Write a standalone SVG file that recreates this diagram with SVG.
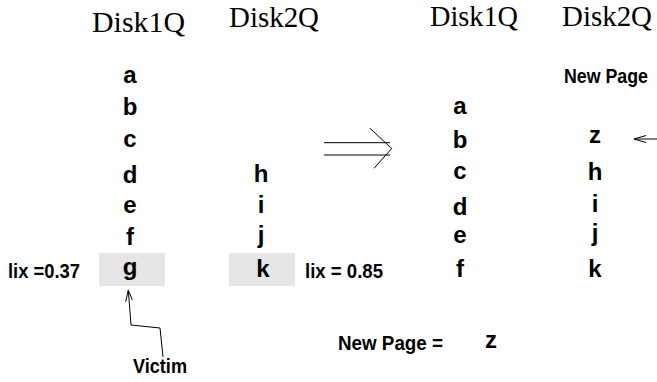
<svg xmlns="http://www.w3.org/2000/svg" width="657" height="382" viewBox="0 0 657 382">
<style>
.hd{font-family:"Liberation Serif","Times New Roman",serif;font-size:29px;fill:#000}
.lt{font-family:"Liberation Sans",Arial,sans-serif;font-weight:bold;font-size:24px;fill:#000;text-anchor:middle}
.lb{font-family:"Liberation Sans",Arial,sans-serif;font-weight:bold;font-size:21px;fill:#000}
.box{fill:#e6e6e6}
.ln{fill:none;stroke:#000;stroke-width:1}
</style>
<rect width="657" height="382" fill="#fff"/>
<g id="headings">
<text class="hd" x="92" y="32" textLength="93" lengthAdjust="spacingAndGlyphs">Disk1Q</text>
<text class="hd" x="229" y="27" textLength="90" lengthAdjust="spacingAndGlyphs">Disk2Q</text>
<text class="hd" x="430" y="26" textLength="88" lengthAdjust="spacingAndGlyphs">Disk1Q</text>
<text class="hd" x="562" y="26" textLength="90" lengthAdjust="spacingAndGlyphs">Disk2Q</text>
</g>
<g id="left-disk1">
<rect class="box" x="99" y="253" width="66" height="33"/>
<text class="lt" x="130" y="83">a</text>
<text class="lt" x="130" y="115">b</text>
<text class="lt" x="130" y="147">c</text>
<text class="lt" x="130" y="183">d</text>
<text class="lt" x="130" y="213">e</text>
<text class="lt" x="130" y="245">f</text>
<text class="lt" x="130" y="275">g</text>
<text class="lb" x="8" y="278" textLength="72" lengthAdjust="spacingAndGlyphs">lix =0.37</text>
</g>
<g id="left-disk2">
<rect class="box" x="229" y="253" width="66" height="33"/>
<text class="lt" x="261" y="182">h</text>
<text class="lt" x="261" y="213">i</text>
<text class="lt" x="261" y="243">j</text>
<text class="lt" x="263" y="277">k</text>
<text class="lb" x="305" y="278" textLength="78" lengthAdjust="spacingAndGlyphs">lix = 0.85</text>
</g>
<g id="victim">
<text class="lb" x="133" y="373" textLength="54" lengthAdjust="spacingAndGlyphs">Victim</text>
</g>
<g id="right-disk1">
<text class="lt" x="460" y="114">a</text>
<text class="lt" x="460" y="148">b</text>
<text class="lt" x="460" y="179">c</text>
<text class="lt" x="460" y="215">d</text>
<text class="lt" x="460" y="243">e</text>
<text class="lt" x="460" y="277">f</text>
</g>
<g id="right-disk2">
<text class="lb" x="564" y="83" font-size="17" textLength="84" lengthAdjust="spacingAndGlyphs">New Page</text>
<text class="lt" x="595" y="143">z</text>
<text class="lt" x="595" y="180">h</text>
<text class="lt" x="595" y="212">i</text>
<text class="lt" x="595" y="241">j</text>
<text class="lt" x="595" y="277">k</text>
</g>
<g id="new-page">
<text class="lb" x="338" y="350" textLength="105" lengthAdjust="spacingAndGlyphs">New Page =</text>
<text class="lt" x="491" y="348">z</text>
</g>
<g id="connectors">
<polyline class="ln" points="163,357 160,328 131,325 128.3,290"/>
<polyline class="ln" points="125.7,301.7 128.3,290 132.3,300"/>
<line class="ln" x1="324" y1="142.7" x2="390" y2="142.7"/>
<line class="ln" x1="324" y1="155" x2="390" y2="155"/>
<polyline class="ln" points="370,128.3 391.7,148.5 374,168.3"/>
<line class="ln" x1="657" y1="139" x2="634" y2="139"/>
<polyline class="ln" points="646,135.5 634,139 646,142.5"/>
</g>
</svg>
